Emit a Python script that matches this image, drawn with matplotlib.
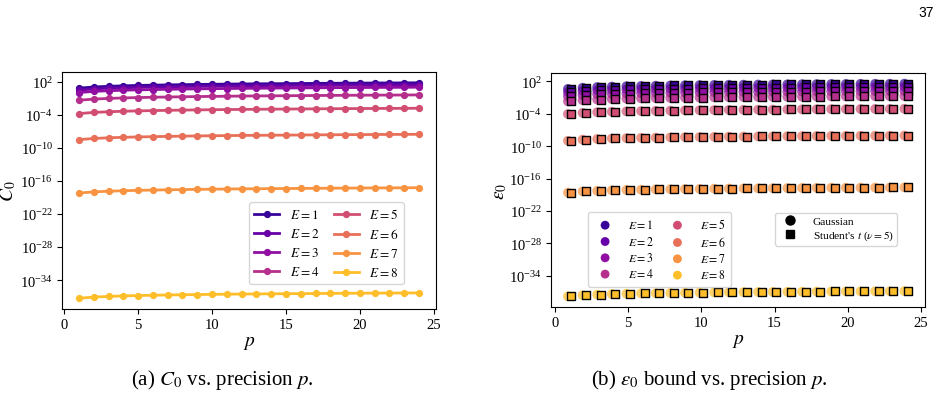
import matplotlib
matplotlib.use("Agg")
import matplotlib.pyplot as plt
import numpy as np
from matplotlib.lines import Line2D

plt.rcParams["font.family"] = ["Liberation Serif", "DejaVu Serif"]
plt.rcParams["mathtext.fontset"] = "stix"

# precision p
p = np.arange(1, 25)
E_labels = [1, 2, 3, 4, 5, 6, 7, 8]

# log10(C0) per E
logC0 = [
    [0.85, 1.06, 1.18, 1.27, 1.34, 1.39, 1.44, 1.48, 1.52, 1.55, 1.58, 1.61, 1.63, 1.65, 1.67, 1.69, 1.71, 1.73, 1.75, 1.76, 1.78, 1.79, 1.80, 1.82],
    [0.50, 0.71, 0.83, 0.92, 0.99, 1.04, 1.09, 1.13, 1.17, 1.20, 1.23, 1.26, 1.28, 1.30, 1.32, 1.34, 1.36, 1.38, 1.40, 1.41, 1.43, 1.44, 1.45, 1.47],
    [0.05, 0.26, 0.38, 0.47, 0.54, 0.59, 0.64, 0.68, 0.72, 0.75, 0.78, 0.81, 0.83, 0.85, 0.87, 0.89, 0.91, 0.93, 0.95, 0.96, 0.98, 0.99, 1.00, 1.02],
    [-1.35, -1.14, -1.02, -0.93, -0.86, -0.81, -0.76, -0.72, -0.68, -0.65, -0.62, -0.59, -0.57, -0.55, -0.53, -0.51, -0.49, -0.47, -0.45, -0.44, -0.42, -0.41, -0.40, -0.38],
    [-3.77, -3.56, -3.44, -3.35, -3.28, -3.23, -3.18, -3.14, -3.10, -3.07, -3.04, -3.01, -2.99, -2.97, -2.95, -2.93, -2.91, -2.89, -2.87, -2.86, -2.84, -2.83, -2.82, -2.80],
    [-8.50, -8.29, -8.17, -8.08, -8.01, -7.96, -7.91, -7.87, -7.83, -7.80, -7.77, -7.74, -7.72, -7.70, -7.68, -7.66, -7.64, -7.62, -7.60, -7.59, -7.57, -7.56, -7.55, -7.53],
    [-18.20, -17.99, -17.87, -17.78, -17.71, -17.66, -17.61, -17.57, -17.53, -17.50, -17.47, -17.44, -17.42, -17.40, -17.38, -17.36, -17.34, -17.32, -17.30, -17.29, -17.27, -17.26, -17.25, -17.23],
    [-37.30, -37.09, -36.97, -36.88, -36.81, -36.76, -36.71, -36.67, -36.63, -36.60, -36.57, -36.54, -36.52, -36.50, -36.48, -36.46, -36.44, -36.42, -36.40, -36.39, -36.37, -36.36, -36.35, -36.33],
]

# log10(eps0) per E
logEps = [
    [0.60, 0.81, 0.93, 1.02, 1.09, 1.14, 1.19, 1.23, 1.27, 1.30, 1.33, 1.36, 1.38, 1.40, 1.42, 1.44, 1.46, 1.48, 1.50, 1.51, 1.53, 1.54, 1.55, 1.57],
    [0.00, 0.21, 0.33, 0.42, 0.49, 0.54, 0.59, 0.63, 0.67, 0.70, 0.73, 0.76, 0.78, 0.80, 0.82, 0.84, 0.86, 0.88, 0.90, 0.91, 0.93, 0.94, 0.95, 0.97],
    [-0.75, -0.54, -0.42, -0.33, -0.26, -0.21, -0.16, -0.12, -0.08, -0.05, -0.02, 0.01, 0.03, 0.05, 0.07, 0.09, 0.11, 0.13, 0.15, 0.16, 0.18, 0.19, 0.20, 0.22],
    [-1.70, -1.49, -1.37, -1.28, -1.21, -1.16, -1.11, -1.07, -1.03, -1.00, -0.97, -0.94, -0.92, -0.90, -0.88, -0.86, -0.84, -0.82, -0.80, -0.79, -0.77, -0.76, -0.75, -0.73],
    [-4.05, -3.84, -3.72, -3.63, -3.56, -3.51, -3.46, -3.42, -3.38, -3.35, -3.32, -3.29, -3.27, -3.25, -3.23, -3.21, -3.19, -3.17, -3.15, -3.14, -3.12, -3.11, -3.10, -3.08],
    [-9.00, -8.79, -8.67, -8.58, -8.51, -8.46, -8.41, -8.37, -8.33, -8.30, -8.27, -8.24, -8.22, -8.20, -8.18, -8.16, -8.14, -8.12, -8.10, -8.09, -8.07, -8.06, -8.05, -8.03],
    [-18.60, -18.39, -18.27, -18.18, -18.11, -18.06, -18.01, -17.97, -17.93, -17.90, -17.87, -17.84, -17.82, -17.80, -17.78, -17.76, -17.74, -17.72, -17.70, -17.69, -17.67, -17.66, -17.65, -17.63],
    [-37.80, -37.59, -37.47, -37.38, -37.31, -37.26, -37.21, -37.17, -37.13, -37.10, -37.07, -37.04, -37.02, -37.00, -36.98, -36.96, -36.94, -36.92, -36.90, -36.89, -36.87, -36.86, -36.85, -36.83],
]

yticks = [1e2, 1e-4, 1e-10, 1e-16, 1e-22, 1e-28, 1e-34]
xticks = [0, 5, 10, 15, 20, 25]

colors = plt.cm.plasma(np.linspace(0.08, 0.86, len(E_labels)))

fig = plt.figure(figsize=(9.41, 4.10), dpi=100)
ax1 = fig.add_axes([0.0659, 0.2439, 0.3974, 0.578])
ax2 = fig.add_axes([0.5855, 0.2488, 0.3974, 0.5707])

# (a) C0 vs p
for i, E in enumerate(E_labels):
    ax1.plot(p, 10.0 ** np.array(logC0[i]), "-o", color=colors[i], lw=2.0, ms=4.2,
             label=f"$E={E}$")

# (b) eps0 vs p: Gaussian circles, Student's t squares
for i, E in enumerate(E_labels):
    vals = 10.0 ** np.array(logEps[i])
    ax2.scatter(p - 0.12, vals, s=50, marker="o", color=colors[i], alpha=0.7,
                edgecolors="none", label=f"$E={E}$", zorder=2)
    ax2.scatter(p + 0.12, vals, s=32, marker="s", color=colors[i],
                edgecolors="black", linewidths=1.0, zorder=3)

for ax in (ax1, ax2):
    ax.set_yscale("log")
    ax.set_yticks(yticks)
    ax.yaxis.set_minor_locator(matplotlib.ticker.NullLocator())
    ax.set_xticks(xticks)
    ax.tick_params(labelsize=10.5, pad=3)
    ax.set_xlabel("$p$", fontsize=14, labelpad=2)

ax1.set_ylabel("$C_0$", fontsize=14)
ax1.yaxis.set_label_coords(-0.118, 0.5)
ax2.set_ylabel(r"$\varepsilon_0$", fontsize=14)
ax2.yaxis.set_label_coords(-0.112, 0.5)

ax1.legend(ncol=2, loc="upper left", bbox_to_anchor=(0.5, 0.451), borderaxespad=0,
           fontsize=9.5, handlelength=1.9, columnspacing=1.1, labelspacing=0.45,
           handletextpad=0.8)

leg1 = ax2.legend(ncol=2, loc="upper left", bbox_to_anchor=(0.099, 0.406),
                  borderaxespad=0, fontsize=8.5, columnspacing=1.0, labelspacing=0.28,
                  handletextpad=0.9, markerscale=0.9, borderpad=0.45)
for h in leg1.legend_handles:
    h.set_alpha(1.0)
ax2.add_artist(leg1)
shape_handles = [
    Line2D([], [], marker="o", color="black", ls="none", ms=6.5),
    Line2D([], [], marker="s", color="black", ls="none", ms=6),
]
ax2.legend(shape_handles, ["Gaussian", r"Student's $t$ ($\nu=5$)"], loc="upper left",
           bbox_to_anchor=(0.599, 0.402), borderaxespad=0, fontsize=8.2,
           labelspacing=0.2, handletextpad=1.0, borderpad=0.3)

fig.text(0.236, 0.073, r"(a) $C_0$ vs. precision $p$.", ha="center", va="center", fontsize=15)
fig.text(0.754, 0.073, r"(b) $\varepsilon_0$ bound vs. precision $p$.", ha="center", va="center", fontsize=15)
fig.text(0.992, 0.968, "37", ha="right", va="center", fontsize=10, family=["Liberation Sans"])

fig.savefig("out.png", dpi=100)
